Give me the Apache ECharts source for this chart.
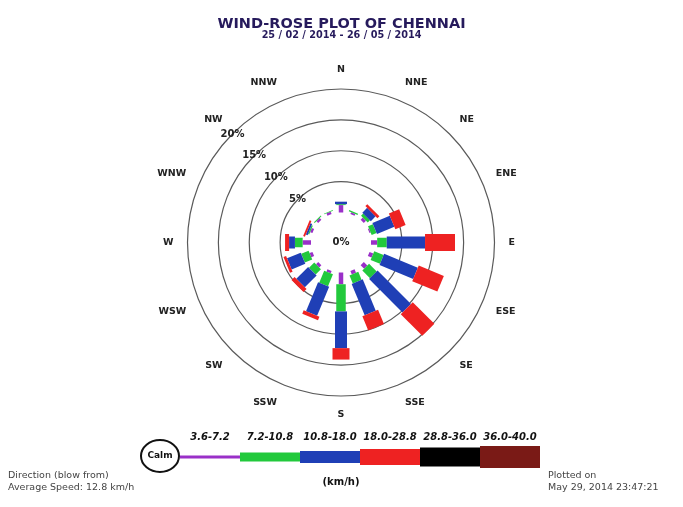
<!DOCTYPE html>
<html>
<head>
<meta charset="utf-8">
<script src="https://cdn.jsdelivr.net/npm/echarts@6/dist/echarts.min.js"></script>
<style>
html,body{margin:0;padding:0;background:#fff;}
#chart{width:683px;height:507px;}
</style>
</head>
<body>
<div id="chart"></div>
<script>
// ---- data ----
const directions = ['N','NNE','NE','ENE','E','ESE','SE','SSE','S','SSW','SW','WSW','W','WNW','NW','NNW'];
const speedClasses = ['3.6-7.2','7.2-10.8','10.8-18.0','18.0-28.8','28.8-36.0','36.0-40.0'];
const radiusTickLabels = ['0%','','5%','10%','15%','20%'];
// frequency (%) per direction for each speed class (km/h)
const s36_72   = [1.2,0.3,0.5,0.2,1.0,0.65,0.8,0.6,1.9,0.4,0.5,0.5,1.35,0.4,0.4,0.4];
const s72_108  = [0.15,0.2,0.5,0.85,1.55,1.65,1.75,1.4,4.4,2.1,1.2,1.3,1.25,0.2,0.15,0.1];
const s108_180 = [0.4,0,1.1,3.05,6.2,5.9,7.65,5.5,5.95,5.1,2.7,2.4,0.95,0.3,0,0];
const s180_288 = [0,0,0.45,1.8,4.85,4.4,4.95,2.5,1.85,0.6,0.7,0.45,0.65,0.3,0,0];
const s288_360 = [0,0,0,0,0,0,0,0,0,0,0,0,0,0,0,0];
const s360_400 = [0,0,0,0,0,0,0,0,0,0,0,0,0,0,0,0];
const titleText = 'WIND-ROSE PLOT OF CHENNAI';
const subTitleText = '25 / 02 / 2014 - 26 / 05 / 2014';

// ---- styles ----
const classColors = ['#9a30c8','#22c93c','#1f3fb6','#ee2222','#000000','#7a1a16'];
const barWidths = [4.5, 9.5, 12, 17, 19, 22];
const legendThick = [3, 9, 12, 16, 19, 22];

const allSeries = [s36_72, s72_108, s108_180, s180_288, s288_360, s360_400];
const items = [];
directions.forEach((d, i) => {
  let cum = 0;
  allSeries.forEach((arr, k) => {
    const v = arr[i];
    if (v > 0) items.push([i, cum, cum + v, k]);
    cum += v;
  });
});

function renderItem(params, api) {
  const i = api.value(0), a = api.value(1), b = api.value(2), k = api.value(3);
  const cs = params.coordSys;
  const p0 = api.coord([a, i]);
  const p1 = api.coord([b, i]);
  let dx = p1[0] - cs.cx, dy = p1[1] - cs.cy;
  const L = Math.hypot(dx, dy) || 1;
  dx /= L; dy /= L;
  const hw = barWidths[k] / 2;
  const nx = -dy * hw, ny = dx * hw;
  return {
    type: 'polygon',
    shape: { points: [
      [p0[0] + nx, p0[1] + ny], [p1[0] + nx, p1[1] + ny],
      [p1[0] - nx, p1[1] - ny], [p0[0] - nx, p0[1] - ny]
    ]},
    style: { fill: classColors[k] }
  };
}

// legend graphic
const graphics = [];
const legX0 = 180, legSegW = 60, legY = 457;
graphics.push({ type: 'ellipse', shape: { cx: 160, cy: 456, rx: 19, ry: 16 },
  style: { fill: '#fff', stroke: '#111', lineWidth: 2 } });
graphics.push({ type: 'text', x: 160, y: 456, style: { text: 'Calm', fill: '#111',
  font: 'bold 9px "DejaVu Sans"', textAlign: 'center', textVerticalAlign: 'middle' } });
speedClasses.forEach((lab, k) => {
  const t = legendThick[k];
  graphics.push({ type: 'rect', shape: { x: legX0 + k * legSegW, y: legY - t / 2, width: legSegW, height: t },
    style: { fill: classColors[k] } });
  graphics.push({ type: 'text', x: legX0 + k * legSegW + legSegW / 2, y: 437,
    style: { text: lab, fill: '#111', font: 'italic bold 10px "DejaVu Sans"', textAlign: 'center', textVerticalAlign: 'middle' } });
});
graphics.push({ type: 'text', x: 341, y: 482, style: { text: '(km/h)', fill: '#111',
  font: 'bold 10px "DejaVu Sans"', textAlign: 'center', textVerticalAlign: 'middle' } });
graphics.push({ type: 'text', x: 8, y: 475.5, style: { text: 'Direction (blow from)', fill: '#444',
  font: '9.5px "DejaVu Sans"', textVerticalAlign: 'middle' } });
graphics.push({ type: 'text', x: 8, y: 487.5, style: { text: 'Average Speed: 12.8 km/h', fill: '#444',
  font: '9.5px "DejaVu Sans"', textVerticalAlign: 'middle' } });
graphics.push({ type: 'text', x: 548, y: 475.5, style: { text: 'Plotted on', fill: '#444',
  font: '9.5px "DejaVu Sans"', textVerticalAlign: 'middle' } });
graphics.push({ type: 'text', x: 548, y: 487.5, style: { text: 'May 29, 2014 23:47:21', fill: '#444',
  font: '9.5px "DejaVu Sans"', textVerticalAlign: 'middle' } });

const chart = echarts.init(document.getElementById('chart'), null, { renderer: 'canvas' });
chart.setOption({
  backgroundColor: '#ffffff',
  animation: false,
  title: [
    { text: titleText, left: 'center', top: 12,
      textStyle: { fontFamily: 'DejaVu Sans', fontSize: 14.5, fontWeight: 'bold', color: '#261a5c' } },
    { text: subTitleText, left: 'center', top: 25,
      textStyle: { fontFamily: 'DejaVu Sans', fontSize: 9.7, fontWeight: 'bold', color: '#261a5c' } }
  ],
  polar: [
    { center: [341, 242.5], radius: [30, 153.5] },
    { center: [341, 242.5], radius: [0, 153.5] }
  ],
  angleAxis: [
    { polarIndex: 0, type: 'category', data: directions, startAngle: 90 + 180 / directions.length,
      clockwise: true, boundaryGap: true,
      axisLine: { show: false }, axisTick: { show: false }, splitLine: { show: false },
      axisLabel: { margin: 14, fontFamily: 'DejaVu Sans', fontSize: 9.5, fontWeight: 'bold', color: '#222' } },
    { polarIndex: 1, type: 'value', min: 0, max: 360, startAngle: 135,
      axisLine: { show: false }, axisTick: { show: false }, splitLine: { show: false }, axisLabel: { show: false } }
  ],
  radiusAxis: [
    { polarIndex: 0, type: 'value', min: 0, max: 20, interval: 5,
      axisLine: { show: false }, axisTick: { show: false }, axisLabel: { show: false },
      splitLine: { show: true, lineStyle: { color: ['rgba(0,0,0,0)', '#5a5a5a', '#5a5a5a', '#5a5a5a', '#5a5a5a'], width: 1.2 } } },
    { polarIndex: 1, type: 'value', min: -5, max: 20, interval: 5, z: 10,
      axisLine: { show: false }, axisTick: { show: false }, splitLine: { show: false },
      axisLabel: { margin: 0, align: 'center', verticalAlign: 'middle',
        formatter: (v, idx) => radiusTickLabels[idx] || '',
        fontFamily: 'DejaVu Sans', fontSize: 10, fontWeight: 'bold', color: '#222' } }
  ],
  series: [{
    type: 'custom', coordinateSystem: 'polar', polarIndex: 0,
    encode: { radius: [1, 2], angle: 0 },
    data: items, renderItem: renderItem, z: 5
  }],
  graphic: graphics
});
</script>
</body>
</html>
